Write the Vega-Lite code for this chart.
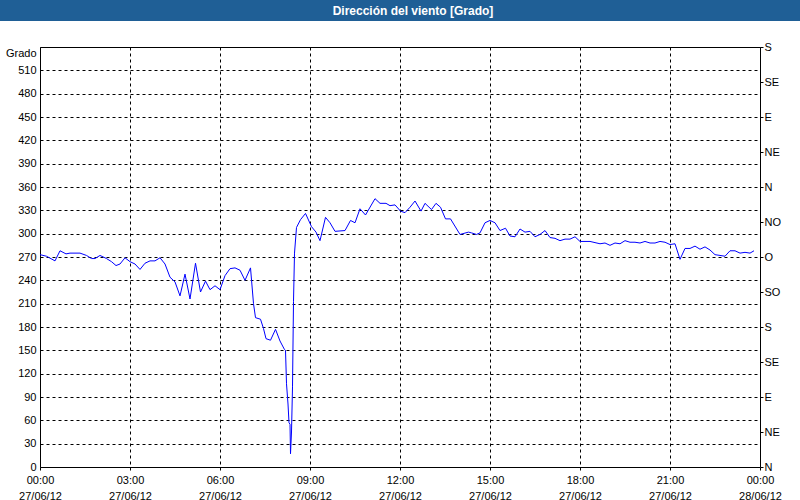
{"$schema":"https://vega.github.io/schema/vega-lite/v6.json","padding":0,"background":"white","config":{"view":{"stroke":null},"font":"Liberation Sans"},"spacing":19,
"vconcat":[
{"width":720,"height":21,"data":{"values":[{"titulo":"Dirección del viento [Grado]","desde":-80,"hasta":1520}]},
"layer":[{"mark":{"type":"rect","color":"#1f5f96","clip":false},"encoding":{"x":{"field":"desde","type":"quantitative","scale":{"domain":[0,1440],"nice":false,"zero":false},"axis":null},"x2":{"field":"hasta"}}},
{"mark":{"type":"text","color":"white","fontSize":12,"fontWeight":"bold","dx":13,"align":"center","baseline":"middle"},"encoding":{"text":{"field":"titulo"}}}]},
{"width":720,"height":420,"view":{"stroke":"black","strokeWidth":1},
"data":{"values":[
{"m":0,"g":273},{"m":13,"g":271},{"m":30,"g":265},{"m":40,"g":278},{"m":52,"g":274},{"m":60,"g":275},{"m":80,"g":275},{"m":93,"g":272},{"m":103,"g":268},{"m":110,"g":268},
{"m":120,"g":272},{"m":133,"g":268},{"m":143,"g":264},{"m":152,"g":259},{"m":160,"g":261},{"m":170,"g":269},{"m":180,"g":264},{"m":190,"g":261},{"m":200,"g":254},{"m":210,"g":262},
{"m":220,"g":265},{"m":230,"g":265},{"m":240,"g":269},{"m":250,"g":261},{"m":260,"g":244},{"m":270,"g":238},{"m":280,"g":220},{"m":290,"g":248},{"m":300,"g":216},{"m":311,"g":262},
{"m":321,"g":225},{"m":331,"g":239},{"m":340,"g":228},{"m":350,"g":233},{"m":360,"g":228},{"m":370,"g":246},{"m":380,"g":255},{"m":390,"g":256},{"m":400,"g":253},{"m":410,"g":240},
{"m":421,"g":256},{"m":427,"g":210},{"m":431,"g":192},{"m":441,"g":190},{"m":447,"g":178},{"m":452,"g":165},{"m":461,"g":163},{"m":471,"g":177},{"m":480,"g":162},{"m":489,"g":151},
{"m":491,"g":150},{"m":493,"g":107},{"m":496,"g":81},{"m":498,"g":57},{"m":500,"g":55},{"m":501,"g":17},{"m":503,"g":45},{"m":505,"g":103},{"m":507,"g":213},{"m":509,"g":275},
{"m":513,"g":308},{"m":521,"g":318},{"m":531,"g":326},{"m":543,"g":309},{"m":552,"g":302},{"m":560,"g":291},{"m":571,"g":321},{"m":580,"g":314},{"m":590,"g":303},{"m":610,"g":304},
{"m":621,"g":317},{"m":630,"g":314},{"m":640,"g":332},{"m":651,"g":324},{"m":670,"g":345},{"m":680,"g":339},{"m":692,"g":339},{"m":700,"g":336},{"m":710,"g":337},{"m":721,"g":329},
{"m":730,"g":327},{"m":740,"g":334},{"m":750,"g":342},{"m":762,"g":329},{"m":770,"g":339},{"m":783,"g":331},{"m":792,"g":339},{"m":801,"g":334},{"m":811,"g":319},{"m":821,"g":319},
{"m":840,"g":299},{"m":857,"g":302},{"m":863,"g":301},{"m":873,"g":299},{"m":880,"g":301},{"m":890,"g":314},{"m":900,"g":317},{"m":910,"g":314},{"m":920,"g":304},{"m":931,"g":307},
{"m":940,"g":297},{"m":950,"g":296},{"m":960,"g":306},{"m":970,"g":302},{"m":980,"g":303},{"m":990,"g":296},{"m":1000,"g":299},{"m":1010,"g":304},{"m":1020,"g":295},{"m":1030,"g":294},
{"m":1040,"g":291},{"m":1050,"g":293},{"m":1060,"g":293},{"m":1070,"g":296},{"m":1080,"g":290},{"m":1100,"g":290},{"m":1120,"g":287},{"m":1130,"g":288},{"m":1140,"g":285},{"m":1150,"g":288},
{"m":1160,"g":287},{"m":1170,"g":291},{"m":1180,"g":289},{"m":1190,"g":289},{"m":1200,"g":288},{"m":1210,"g":290},{"m":1220,"g":288},{"m":1230,"g":288},{"m":1240,"g":290},{"m":1250,"g":289},
{"m":1260,"g":286},{"m":1270,"g":287},{"m":1280,"g":267},{"m":1290,"g":281},{"m":1300,"g":281},{"m":1310,"g":284},{"m":1320,"g":280},{"m":1330,"g":283},{"m":1340,"g":279},{"m":1350,"g":273},
{"m":1360,"g":272},{"m":1370,"g":271},{"m":1380,"g":278},{"m":1390,"g":278},{"m":1400,"g":275},{"m":1410,"g":276},{"m":1420,"g":275},{"m":1428,"g":278}]},
"layer":[
{"mark":{"type":"line","color":"#0000ff","strokeWidth":1},
"encoding":{
"x":{"field":"m","type":"quantitative","scale":{"domain":[0,1440],"nice":false,"zero":false},
"axis":{"title":null,"values":[0,180,360,540,720,900,1080,1260,1440],
"labelExpr":"[(datum.value < 600 || datum.value == 1440 ? '0' : '') + (datum.value == 1440 ? 0 : datum.value / 60) + ':00', datum.value == 1440 ? '28/06/12' : '27/06/12']",
"labelOverlap":false,"labelFlush":false,"labelBound":false,"labelAngle":0,"labelAlign":"center","labelBaseline":"top","labelLineHeight":16,"labelPadding":4,"labelFontSize":11,"labelColor":"black",
"ticks":true,"tickSize":3,"tickColor":"black","domain":false,"grid":true,"gridColor":"black","gridDash":[3,3]}},
"y":{"field":"g","type":"quantitative","scale":{"domain":[0,540],"nice":false},
"axis":{"orient":"left","values":[0,30,60,90,120,150,180,210,240,270,300,330,360,390,420,450,480,510],
"title":"Grado","titleAngle":0,"titleAlign":"right","titleBaseline":"middle","titleX":-4,"titleY":6,"titleFontWeight":"normal","titleFontSize":11,"titleColor":"black",
"labelFontSize":11,"labelColor":"black","labelPadding":4,"ticks":false,"domain":false,"grid":true,"gridColor":"black","gridDash":[3,3]}}}},
{"mark":{"type":"line","opacity":0},
"encoding":{
"x":{"field":"m","type":"quantitative"},
"y":{"field":"g","type":"quantitative",
"axis":{"orient":"right","title":null,"values":[0,45,90,135,180,225,270,315,360,405,450,495,540],
"labelExpr":"datum.value == 0 || datum.value == 360 ? 'N' : datum.value == 45 || datum.value == 405 ? 'NE' : datum.value == 90 || datum.value == 450 ? 'E' : datum.value == 135 || datum.value == 495 ? 'SE' : datum.value == 180 || datum.value == 540 ? 'S' : datum.value == 225 ? 'SO' : datum.value == 270 ? 'O' : 'NO'",
"labelFontSize":11,"labelColor":"black","labelPadding":1,"labelBaseline":"middle","labelOverlap":false,"ticks":true,"tickSize":3,"tickColor":"black","domain":false,"grid":false}}}}
],
"resolve":{"axis":{"y":"independent"}}}
]}
